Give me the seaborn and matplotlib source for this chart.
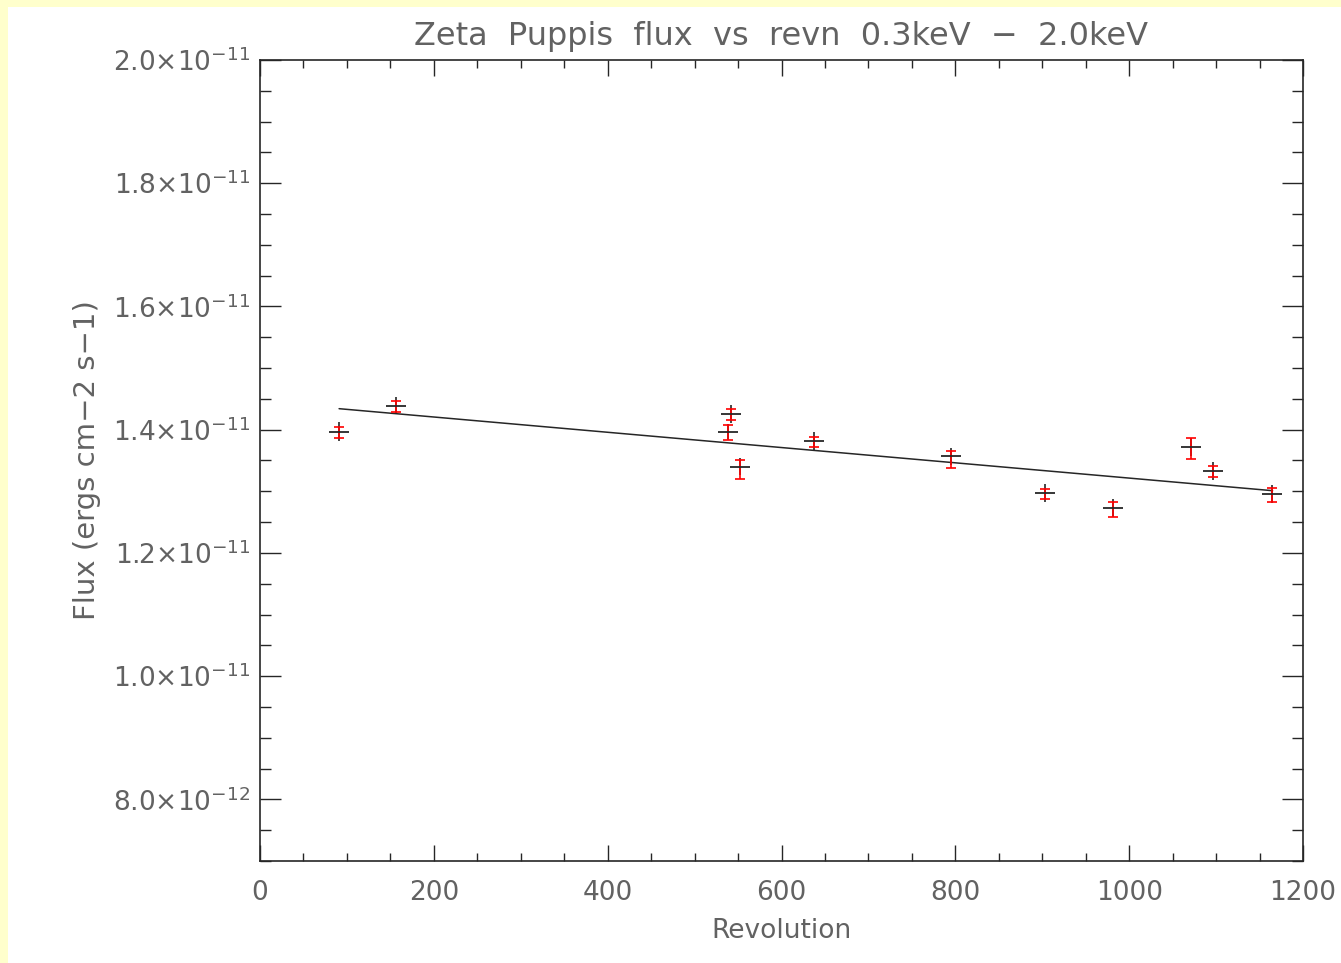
import matplotlib
matplotlib.use("Agg")
import matplotlib.pyplot as plt
import seaborn as sns
import pandas as pd
from matplotlib.patches import Rectangle
from matplotlib.ticker import FixedLocator, MultipleLocator

# Observation data: revolution number, flux and 1-sigma errors
revolution = [91, 156, 538, 542, 552, 637, 795, 903, 981, 1071, 1097, 1164]
flux_a = [1.397e-11, 1.439e-11, 1.397e-11, 1.425e-11, 1.340e-11, 1.381e-11,
          1.357e-11, 1.297e-11, 1.273e-11, 1.372e-11, 1.333e-11, 1.296e-11]
err_a = [1.54e-13, 1.43e-13, 1.25e-13, 1.43e-13, 1.41e-13, 1.50e-13,
         1.40e-13, 1.49e-13, 1.40e-13, 1.40e-13, 1.43e-13, 1.43e-13]
flux_b = [1.3957e-11, 1.4378e-11, 1.3948e-11, 1.4243e-11, 1.3351e-11, 1.3802e-11,
          1.3513e-11, 1.2956e-11, 1.2698e-11, 1.3695e-11, 1.3322e-11, 1.2940e-11]
err_b = [0.86e-13, 0.93e-13, 1.22e-13, 0.86e-13, 1.51e-13, 0.78e-13,
         1.41e-13, 0.81e-13, 1.22e-13, 1.66e-13, 0.89e-13, 1.09e-13]

# Linear trend end points
fit_rev = [91, 1165]
fit_flux = [1.4341e-11, 1.3010e-11]

x_ticks = [0, 200, 400, 600, 800, 1000, 1200]
y_ticks = [8e-12, 1.0e-11, 1.2e-11, 1.4e-11, 1.6e-11, 1.8e-11, 2.0e-11]
y_tick_labels = [r"8.0×10$^{-12}$", r"1.0×10$^{-11}$", r"1.2×10$^{-11}$",
                 r"1.4×10$^{-11}$", r"1.6×10$^{-11}$", r"1.8×10$^{-11}$",
                 r"2.0×10$^{-11}$"]

df = pd.DataFrame({"rev": revolution, "flux_a": flux_a, "err_a": err_a,
                   "flux_b": flux_b, "err_b": err_b})
fit = pd.DataFrame({"rev": fit_rev, "flux": fit_flux})

sns.set_theme(style="white")
plt.rcParams["font.family"] = ["DejaVu Sans"]
plt.rcParams["mathtext.fontset"] = "dejavusans"

text_col = "#626262"
line_col = "#262626"
W, H = 1341, 963
fig = plt.figure(figsize=(W / 100, H / 100), dpi=100, facecolor="#FFFFCC")
# white panel inside the pale-yellow frame
fig.patches.append(Rectangle((8 / W, 0), 1 - 8 / W, 1 - 7 / H,
                             transform=fig.transFigure, facecolor="white",
                             edgecolor="none", zorder=-10))

ax = fig.add_axes([260 / W, 1 - 861 / H, (1303 - 260) / W, (861 - 60) / H])
ax.set_zorder(5)
ax.set_facecolor("white")

# vertical error bars of the first series (black)
ax.errorbar(df["rev"], df["flux_a"], yerr=df["err_a"], fmt="none",
            ecolor=line_col, elinewidth=1.2, capsize=0, zorder=2)
# second series with capped error bars (red)
ax.errorbar(df["rev"], df["flux_b"], yerr=df["err_b"], fmt="none",
            ecolor="#FF0000", elinewidth=1.2, capsize=3.6, capthick=1.2, zorder=3)
# horizontal centre marks of the first series
sns.scatterplot(data=df, x="rev", y="flux_a", marker="_", s=190,
                color=line_col, linewidth=1.3, ax=ax, zorder=4)
# trend line
sns.lineplot(data=fit, x="rev", y="flux", color=line_col, linewidth=1.1,
             ax=ax, zorder=2)

ax.set_xlim(0, 1200)
ax.set_ylim(7e-12, 2e-11)
ax.xaxis.set_major_locator(FixedLocator(x_ticks))
ax.xaxis.set_minor_locator(MultipleLocator(50))
ax.yaxis.set_major_locator(FixedLocator(y_ticks))
ax.yaxis.set_minor_locator(MultipleLocator(5e-13))
ax.set_xticklabels([str(v) for v in x_ticks])
ax.set_yticklabels(y_tick_labels)

ax.tick_params(axis="x", which="major", direction="in", length=11.5, width=1,
               top=True, bottom=True, pad=14, labelsize=19, labelcolor=text_col,
               color=line_col)
ax.tick_params(axis="x", which="minor", direction="in", length=5.8, width=1,
               top=True, bottom=True, color=line_col)
ax.tick_params(axis="y", which="major", direction="in", length=15, width=1,
               left=True, right=True, pad=7, labelsize=19, labelcolor=text_col,
               color=line_col)
ax.tick_params(axis="y", which="minor", direction="in", length=7.9, width=1,
               left=True, right=True, color=line_col)

for s in ax.spines.values():
    s.set_color(line_col)
    s.set_linewidth(1.2)

ax.set_xlabel("Revolution", fontsize=19, color=text_col, labelpad=8)
ax.set_ylabel("Flux (ergs cm−2 s−1)", fontsize=21, color=text_col, labelpad=9)
ax.set_title("Zeta  Puppis  flux  vs  revn  0.3keV  −  2.0keV", fontsize=23,
             color=text_col, pad=11)

fig.savefig("out.png", dpi=100, facecolor=fig.get_facecolor())
